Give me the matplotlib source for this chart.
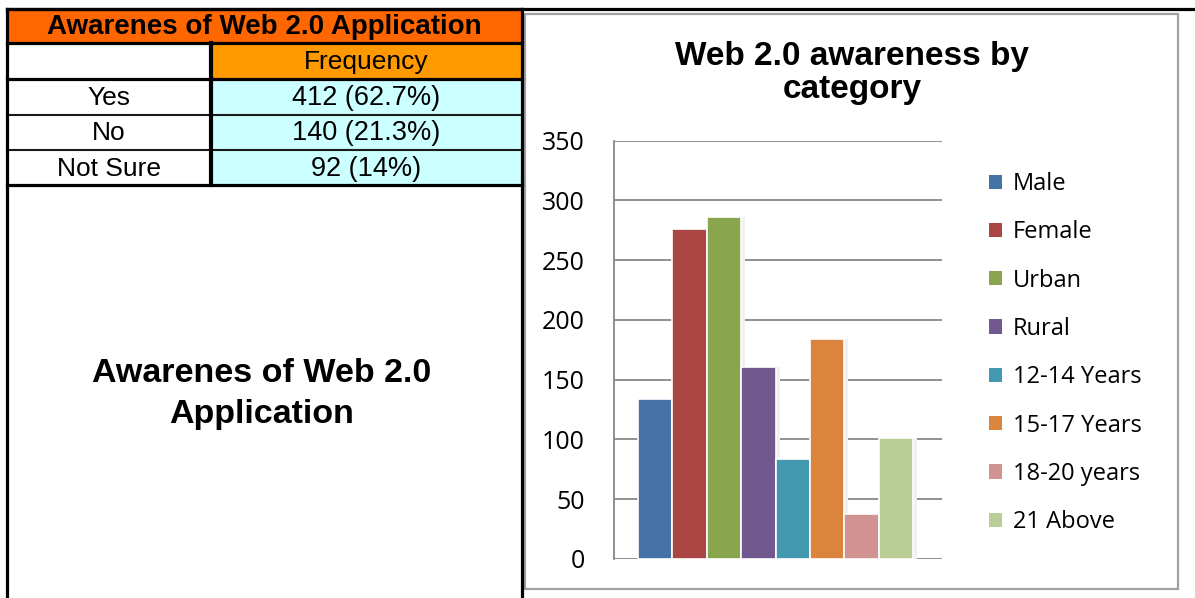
import matplotlib.pyplot as plt
from matplotlib.patches import Rectangle
from matplotlib.lines import Line2D

# survey summary table
table_title = "Awarenes of Web 2.0 Application"
col_header = "Frequency"
answers = ["Yes", "No", "Not Sure"]
freq_labels = ["412 (62.7%)", "140 (21.3%)", "92 (14%)"]

# awareness counts by respondent group
groups = ["Male", "Female", "Urban", "Rural", "12-14 Years",
          "15-17 Years", "18-20 years", "21 Above"]
counts = [134, 276, 286, 161, 84, 184, 38, 101]
bar_colors = ["#4572A7", "#AA4643", "#89A54E", "#71588F",
              "#4198AF", "#DB843D", "#D19392", "#B9CD96"]

W, H = 1195, 598
fig = plt.figure(figsize=(W / 100, H / 100), dpi=100)

# ── background canvas in pixel units ──
bg = fig.add_axes([0, 0, 1, 1])
bg.set_xlim(0, W)
bg.set_ylim(H, 0)
bg.axis("off")

arial = "Liberation Sans"
x_l, x_m, x_r = 7, 211, 522
row_y = [9, 43, 79, 115, 150, 185]

# title row
bg.add_patch(Rectangle((x_l, row_y[0]), x_r - x_l, row_y[1] - row_y[0],
                       facecolor="#FF6600", edgecolor="none"))
bg.text((x_l + x_r) / 2, (row_y[0] + row_y[1]) / 2 + 1, table_title,
        ha="center", va="center", fontsize=20, fontweight="bold", family=arial)

# header row
bg.add_patch(Rectangle((x_m, row_y[1]), x_r - x_m, row_y[2] - row_y[1],
                       facecolor="#FF9900", edgecolor="none"))
bg.text((x_m + x_r) / 2, (row_y[1] + row_y[2]) / 2 + 1, col_header,
        ha="center", va="center", fontsize=19, family=arial)

# data rows
for i, (ans, lab) in enumerate(zip(answers, freq_labels)):
    y0, y1 = row_y[i + 2], row_y[i + 3]
    bg.add_patch(Rectangle((x_m, y0), x_r - x_m, y1 - y0,
                           facecolor="#CCFFFF", edgecolor="none"))
    yc = (y0 + y1) / 2 + 1
    bg.text((x_l + x_m) / 2, yc, ans, ha="center", va="center",
            fontsize=19, family=arial)
    bg.text((x_m + x_r) / 2, yc, lab, ha="center", va="center",
            fontsize=19.5, family=arial)

# table rules
for k, y in enumerate(row_y):
    lw = 1.5 if k in (3, 4) else 2.3
    col = "#1a1a1a" if k in (3, 4) else "black"
    bg.add_line(Line2D([x_l, x_r], [y, y], color=col, lw=lw))
bg.add_line(Line2D([x_l, W], [row_y[0], row_y[0]], color="black", lw=2.3))
bg.add_line(Line2D([x_m, x_m], [row_y[1], row_y[-1]], color="black", lw=3))
bg.add_line(Line2D([x_l, x_l], [row_y[0], H], color="black", lw=2.3))
bg.add_line(Line2D([x_r, x_r], [row_y[0], H], color="black", lw=2.3))

bg.text((x_l + x_r) / 2 - 3, 394, "Awarenes of Web 2.0\nApplication",
        ha="center", va="center", fontsize=24.5, fontweight="bold",
        family=arial, linespacing=1.4)

# chart frame
bg.add_patch(Rectangle((525, 14), 1178 - 525, 589 - 14, facecolor="white",
                       edgecolor="#a0a0a0", lw=1.6))
bg.text(852, 73, "Web 2.0 awareness by\ncategory", ha="center", va="center",
        fontsize=24, fontweight="bold", family=arial, linespacing=1.1)

# ── bar chart ──
ax = fig.add_axes([614 / W, 1 - 559 / H, (942 - 614) / W, (559 - 140.7) / H])
ax.set_facecolor("none")
xs = list(range(len(groups)))
# soft drop shadow to the right of each bar
ax.bar([x + 0.12 for x in xs], counts, width=1.0, color="#f0f0f0",
       edgecolor="none", zorder=2)
bars = ax.bar(xs, counts, width=1.0, color=bar_colors, edgecolor="white",
              linewidth=1.2, zorder=3)
ax.set_xlim(-1.2, 8.34)
ax.set_ylim(0, 350)
ax.set_yticks(range(0, 351, 50))
ax.set_xticks([])
ax.yaxis.grid(True, color="#888888", lw=1.3, zorder=1)
ax.set_axisbelow(True)
for s in ("top", "right", "bottom"):
    ax.spines[s].set_visible(False)
ax.spines["left"].set_color("#888888")
ax.spines["left"].set_linewidth(1.3)
ax.tick_params(axis="y", length=0, pad=21, labelsize=18)
for t in ax.get_yticklabels():
    t.set_family("Open Sans")

leg = fig.legend(bars, groups, loc="upper left",
                 bbox_to_anchor=(989 / W, 1 - 172 / H), frameon=False,
                 prop={"family": "Open Sans", "size": 17},
                 handlelength=0.55, handleheight=0.55, handletextpad=0.45,
                 labelspacing=1.03, borderaxespad=0, borderpad=0)
for p in leg.get_patches():
    p.set_edgecolor("none")

fig.savefig("out.png", dpi=100)
